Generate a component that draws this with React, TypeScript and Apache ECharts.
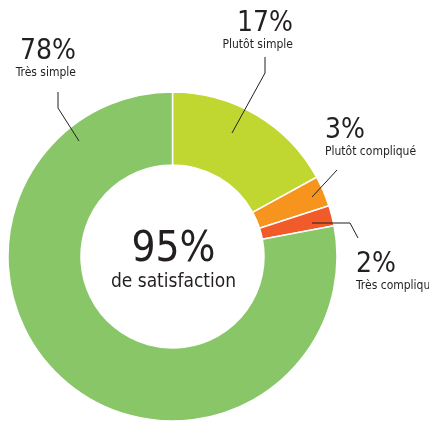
import React, { useEffect, useRef } from "react";
import * as echarts from "echarts";

const categories = ["Plutôt simple", "Plutôt compliqué", "Très compliqué", "Très simple"];
const values = [17, 3, 2, 78];
const colors = ["#c1d731", "#f7941d", "#f15a29", "#89c668"];
const centerValue = "95%";
const centerLabel = "de satisfaction";

const FONT = "'Liberation Sans Narrow', 'DejaVu Sans Condensed', 'Roboto Condensed', 'Open Sans', sans-serif";
const TEXT = "#231f20";

// label placement: [x, y, align, linePoints]
const labelPlace: any[] = [
  [293, 6, "right", [[232, 133], [265, 73], [265, 57]]],
  [325, 113, "left", [[312, 197], [325, 183], [337, 170]]],
  [356, 247, "left", [[312, 223], [350, 223], [358, 238]]],
  [76, 34, "right", [[79, 141], [58, 108], [58, 92]]],
];

const CENTER = [172.5, 256.5];
const RADIUS = [91.5, 164.5];

export default function App() {
  const ref = useRef<HTMLDivElement>(null);
  useEffect(() => {
    const chart = echarts.init(ref.current!, undefined, { renderer: "svg" });
    const data = categories.map((c, i) => ({ name: c, value: values[i], itemStyle: { color: colors[i] } }));
    chart.setOption({
      animation: false,
      graphic: [
        {
          type: "text",
          x: 173.5,
          y: 246,
          z: 100,
          style: { text: centerValue, font: `42px ${FONT}`, lineHeight: 34, fill: TEXT, align: "center", verticalAlign: "middle" },
        },
        {
          type: "text",
          x: 173.5,
          y: 280,
          z: 100,
          style: { text: centerLabel, font: `19px ${FONT}`, lineHeight: 20, fill: TEXT, align: "center", verticalAlign: "middle" },
        },
      ],
      series: [
        {
          type: "pie",
          z: 1,
          center: CENTER,
          radius: RADIUS,
          startAngle: 90,
          clockwise: true,
          silent: true,
          itemStyle: { borderColor: "#fff", borderWidth: 1.5 },
          data,
          label: { show: false },
          labelLine: { show: false },
        },
        {
          type: "pie",
          z: 5,
          center: CENTER,
          radius: RADIUS,
          startAngle: 90,
          clockwise: true,
          silent: true,
          itemStyle: { color: "rgba(0,0,0,0)", borderWidth: 0 },
          data: categories.map((c, i) => ({ name: c, value: values[i] })),
          label: {
            show: true,
            width: 110,
            overflow: "none",
            formatter: (p: any) => `{p|${p.value}%}\n{n|${p.name}}`,
            rich: {
              p: { fontSize: 28, lineHeight: 30, fontFamily: FONT, color: TEXT },
              n: { fontSize: 12, lineHeight: 15, fontFamily: FONT, color: TEXT },
            },
          },
          labelLine: { show: true, minTurnAngle: 0, maxSurfaceAngle: 180, lineStyle: { color: "#231f20", width: 1 } },
          labelLayout: (params: any) => {
            const lp = labelPlace[params.dataIndex];
            return {
              x: lp[0],
              y: lp[1],
              align: lp[2],
              verticalAlign: "top",
              labelLinePoints: lp[3],
            };
          },
        },
      ],
    });
    return () => chart.dispose();
  }, []);
  return <div ref={ref} style={{ position: "fixed", left: 0, top: 0, width: 429, height: 421 }} />;
}
